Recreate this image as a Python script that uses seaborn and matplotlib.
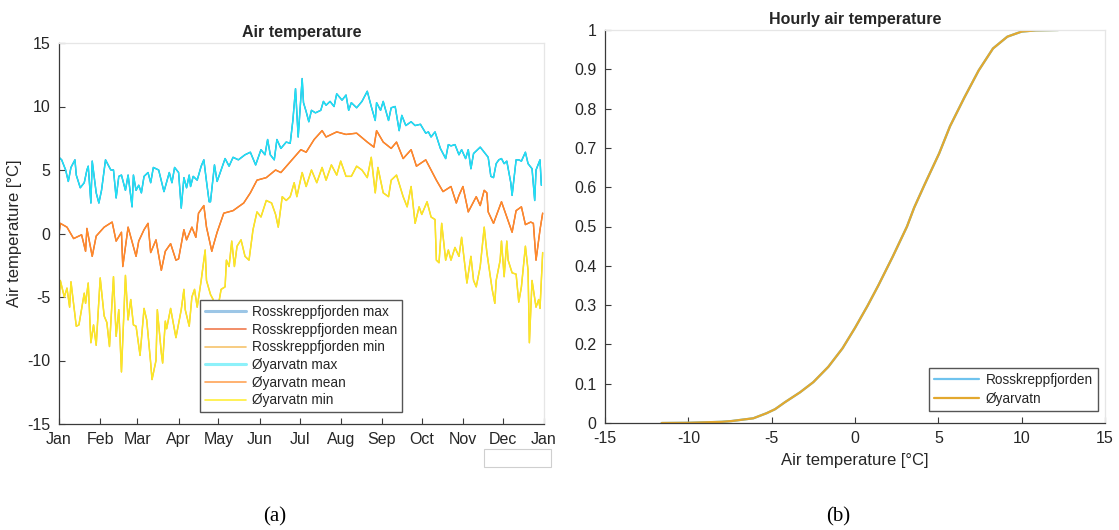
import numpy as np
import pandas as pd
import seaborn as sns
import matplotlib
matplotlib.use("Agg")
import matplotlib.pyplot as plt
import matplotlib.dates as mdates
from matplotlib.patches import Rectangle
from matplotlib.ticker import FuncFormatter

# ---------------- daily air temperature (day of year, deg C) ----------------
max_days = [1, 3, 6, 8, 10, 13, 14, 17, 20, 22, 23, 25, 26, 29, 31, 33, 36, 40, 42, 44,
            46, 48, 51, 53, 56, 57, 59, 61, 63, 65, 68, 70, 72, 76, 80, 84, 86, 88, 91, 93,
            95, 97, 99, 100, 102, 105, 108, 110, 112, 114, 115, 118, 120, 123, 126, 129, 132,
            136, 141, 145, 149, 153, 156, 158, 160, 163, 165, 168, 172, 175, 177, 179, 181,
            184, 185, 187, 189, 191, 194, 198, 200, 202, 205, 208, 210, 214, 217, 219, 221,
            225, 229, 233, 236, 239, 240, 243, 245, 249, 251, 254, 257, 259, 262, 266, 269,
            273, 277, 279, 281, 284, 288, 292, 294, 296, 299, 302, 304, 307, 309, 311, 313,
            318, 321, 324, 326, 328, 330, 332, 334, 336, 338, 341, 342, 345, 347, 349, 352,
            354, 357, 359, 360, 363, 364]
max_vals = [6.0, 5.8, 5.0, 4.1, 5.2, 5.8, 4.6, 3.6, 4.0, 5.0, 5.3, 2.4, 5.7, 3.2, 2.4, 3.4,
            5.8, 5.0, 5.0, 2.8, 4.5, 4.6, 3.4, 4.6, 2.1, 4.6, 3.4, 3.8, 3.2, 4.5, 4.8, 4.0,
            5.2, 5.0, 3.3, 4.8, 4.0, 5.2, 4.8, 2.0, 4.4, 3.6, 4.6, 3.7, 4.5, 4.2, 5.3, 5.8,
            4.1, 2.5, 2.5, 5.4, 4.1, 5.0, 5.9, 5.3, 6.0, 5.8, 6.2, 6.4, 5.4, 6.6, 6.2, 7.4,
            6.2, 5.8, 7.4, 6.7, 7.2, 7.1, 8.9, 11.4, 7.6, 12.2, 10.3, 9.6, 8.8, 9.7, 9.5,
            9.7, 10.4, 10.1, 10.4, 10.0, 11.0, 10.5, 10.9, 9.7, 10.3, 9.9, 10.4, 11.2, 10.0,
            8.9, 10.3, 9.7, 10.4, 8.9, 9.9, 10.0, 8.1, 9.3, 8.5, 8.8, 8.5, 8.6, 7.9, 8.0,
            7.6, 8.0, 6.7, 5.9, 7.0, 6.9, 7.0, 6.2, 6.6, 5.9, 6.6, 5.1, 6.3, 6.8, 6.4, 6.0,
            4.5, 4.4, 5.5, 5.8, 5.9, 5.5, 5.7, 4.0, 3.0, 5.8, 5.8, 5.7, 6.4, 5.5, 5.1, 2.6,
            5.0, 5.8, 3.8]

mean_days = [1, 2, 7, 12, 18, 21, 22, 26, 29, 35, 41, 44, 48, 49, 53, 59, 61, 65, 68, 70,
             74, 78, 81, 85, 89, 91, 95, 97, 101, 104, 106, 110, 112, 116, 117, 120, 125,
             132, 140, 145, 150, 157, 164, 168, 178, 183, 187, 193, 199, 202, 210, 217, 225,
             233, 238, 240, 245, 251, 255, 260, 266, 270, 277, 281, 285, 290, 296, 300, 302,
             305, 309, 315, 318, 321, 323, 324, 328, 334, 338, 342, 345, 349, 352, 356, 358,
             360, 363, 365]
mean_vals = [0.0, 0.8, 0.5, -0.4, -0.1, -1.4, 0.4, -1.8, -0.2, 0.5, 0.9, -0.6, 0.1, -2.6,
             0.5, -1.8, -0.6, 0.3, 0.8, -1.5, -0.5, -2.9, -1.4, -0.8, -2.1, -2.0, 0.3, -0.5,
             0.5, -0.3, 1.6, 2.2, 0.5, -1.4, -1.0, 0.1, 1.6, 1.8, 2.4, 3.2, 4.2, 4.4, 5.0,
             4.8, 6.0, 6.6, 6.4, 7.4, 8.1, 7.6, 8.0, 7.8, 7.9, 7.2, 6.8, 8.1, 7.2, 6.7, 7.2,
             5.9, 6.6, 5.3, 5.8, 5.0, 4.2, 3.3, 3.7, 2.4, 3.0, 3.7, 1.7, 2.9, 2.2, 3.4, 3.2,
             1.7, 0.8, 2.5, 1.3, 0.1, 1.8, 2.1, 0.7, 0.9, 0.8, -2.1, 0.3, 1.6]

min_days = [1, 2, 5, 7, 9, 10, 14, 16, 20, 21, 23, 25, 27, 29, 32, 35, 37, 39, 42, 44, 46,
            48, 51, 53, 55, 57, 59, 62, 65, 67, 70, 71, 74, 75, 78, 79, 81, 82, 85, 89, 93,
            95, 96, 99, 101, 103, 105, 108, 111, 112, 115, 117, 120, 121, 123, 126, 127, 129,
            131, 133, 135, 138, 141, 144, 147, 150, 153, 157, 161, 164, 166, 169, 172, 175,
            178, 180, 184, 187, 191, 195, 199, 202, 206, 210, 213, 217, 221, 225, 229, 233,
            236, 239, 241, 245, 249, 251, 255, 260, 263, 266, 269, 272, 274, 278, 281, 284,
            285, 287, 289, 292, 294, 296, 299, 302, 304, 308, 311, 313, 315, 318, 321, 323,
            327, 329, 330, 333, 334, 336, 338, 339, 342, 345, 347, 349, 352, 354, 355, 357,
            360, 362, 363, 365]
min_vals = [-5.6, -3.7, -5.0, -4.3, -5.8, -3.8, -7.3, -7.2, -4.7, -5.5, -3.9, -8.6, -7.2,
            -8.8, -3.5, -6.5, -7.0, -8.9, -3.4, -8.1, -6.0, -10.9, -3.3, -6.8, -5.2, -7.2,
            -7.3, -9.6, -5.9, -6.8, -10.2, -11.5, -10.0, -6.0, -9.4, -10.2, -6.9, -7.5, -5.9,
            -8.2, -6.0, -4.4, -6.0, -7.3, -5.0, -4.4, -5.8, -3.7, -1.3, -3.7, -4.8, -5.2,
            -6.3, -5.6, -4.4, -4.2, -2.1, -2.6, -0.6, -2.6, -1.0, -0.5, -1.8, -2.1, 0.3, 1.7,
            1.3, 2.6, 2.4, 1.5, 0.5, 2.9, 2.6, 2.9, 4.0, 2.9, 4.8, 3.7, 5.0, 4.0, 5.2, 4.2,
            5.4, 4.6, 5.7, 4.5, 4.5, 5.3, 5.0, 4.4, 6.0, 3.2, 5.2, 3.2, 2.9, 4.2, 4.6, 2.9,
            2.1, 3.7, 0.8, 2.1, 1.5, 2.5, 1.3, 1.1, -2.1, -2.3, 0.8, -2.1, -1.3, -2.1, -1.1,
            -1.8, -0.3, -3.9, -1.8, -3.7, -4.2, -2.6, 0.5, -1.5, -4.4, -5.5, -3.7, -2.1,
            -0.6, -3.4, -0.6, -2.1, -3.1, -3.2, -5.4, -4.2, -1.0, -2.9, -8.6, -3.7, -5.8,
            -5.2, -5.9, -1.5]

# ---------------- cumulative distribution of hourly temperature ----------------
cdf_temp = [-11.6, -10.0, -8.0, -7.4, -6.1, -5.3, -4.8, -4.2, -3.3, -2.5, -1.6, -0.75,
            0.0, 0.75, 1.4, 2.26, 3.12, 3.55, 4.19, 5.05, 5.7, 6.56, 7.42, 8.28, 9.14,
            10.0, 10.85, 12.2]
cdf_prob = [0.0, 0.0005, 0.003, 0.005, 0.012, 0.025, 0.035, 0.053, 0.078, 0.104, 0.143,
            0.19, 0.242, 0.298, 0.35, 0.423, 0.5, 0.548, 0.608, 0.686, 0.755, 0.828, 0.897,
            0.953, 0.983, 0.996, 0.999, 1.0]

stations = ["Rosskreppfjorden", "Øyarvatn"]
stats = ["max", "mean", "min"]

sns.set_theme(style="white")
plt.rcParams["font.family"] = ["Liberation Sans", "DejaVu Sans"]
TXT = "#262626"
plt.rcParams.update({"text.color": TXT, "axes.labelcolor": TXT,
                     "xtick.color": TXT, "ytick.color": TXT,
                     "axes.unicode_minus": False})

fig = plt.figure(figsize=(11.19, 5.30), dpi=100)
ax1 = fig.add_axes([59 / 1119, 1 - 424 / 530, 485 / 1119, 381 / 530])
ax2 = fig.add_axes([605 / 1119, 1 - 423 / 530, 500 / 1119, 393 / 530])

start = pd.Timestamp("2022-01-01")
to_dates = lambda d: start + pd.to_timedelta(np.asarray(d) - 1, unit="D")
series = {"max": (max_days, max_vals), "mean": (mean_days, mean_vals),
          "min": (min_days, min_vals)}

line_cols = {"Rosskreppfjorden": {"max": "#2A7FC4", "mean": "#E0622A", "min": "#F0B838"},
             "Øyarvatn": {"max": "#1EE3F5", "mean": "#FF8A2A", "min": "#FBE824"}}
legend_cols = {"Rosskreppfjorden": {"max": "#9CC6E6", "mean": "#F07A4E", "min": "#F6C46C"},
               "Øyarvatn": {"max": "#8DF1FA", "mean": "#FFA458", "min": "#FFEF3A"}}

for st in stations:
    for s in stats:
        d, v = series[s]
        sns.lineplot(x=to_dates(d), y=v, ax=ax1, color=line_cols[st][s], lw=1.0,
                     estimator=None, errorbar=None, label=f"{st} {s}")

ax1.set_xlim(start, pd.Timestamp("2023-01-01"))
ax1.set_ylim(-15, 15)
ax1.set_yticks(range(-15, 16, 5))
ax1.xaxis.set_major_locator(mdates.MonthLocator())
ax1.xaxis.set_major_formatter(mdates.DateFormatter("%b"))
ax1.set_ylabel("Air temperature [°C]", fontsize=12, labelpad=4)
ax1.set_xlabel("")
ax1.set_title("Air temperature", fontsize=11.5, fontweight="bold", pad=4)

h, l = ax1.get_legend_handles_labels()
leg1 = ax1.legend(h, l, loc="lower left", bbox_to_anchor=(0.291, 0.031), fontsize=9.8,
                  frameon=True, fancybox=False, edgecolor="#555555", framealpha=1,
                  handlelength=3.0, handletextpad=0.45, labelspacing=0.27,
                  borderpad=0.35, borderaxespad=0)
for hdl, lab in zip(leg1.get_lines(), l):
    st, s = lab.rsplit(" ", 1)
    hdl.set_color(legend_cols[st][s])
    hdl.set_linewidth(2.2 if s == "max" else 1.2)
leg1.get_frame().set_linewidth(1.0)

cdf_cols = {"Rosskreppfjorden": "#4DBEEE", "Øyarvatn": "#E3A82E"}
for st in stations:
    sns.lineplot(x=cdf_temp, y=cdf_prob, ax=ax2, color=cdf_cols[st], lw=1.6,
                 estimator=None, errorbar=None, sort=False, label=st)
ax2.set_xlim(-15, 15)
ax2.set_ylim(0, 1)
ax2.set_xticks(range(-15, 16, 5))
ax2.set_yticks(np.round(np.arange(0, 1.01, 0.1), 1))
ax2.yaxis.set_major_formatter(FuncFormatter(lambda v, p: f"{v:g}"))
ax2.set_xlabel("Air temperature [°C]", fontsize=12, labelpad=5)
ax2.set_title("Hourly air temperature", fontsize=11.5, fontweight="bold", pad=4)
leg2 = ax2.legend(loc="lower right", bbox_to_anchor=(0.986, 0.03), fontsize=9.8,
                  frameon=True, fancybox=False, edgecolor="#555555", framealpha=1,
                  handlelength=3.3, handletextpad=0.45, labelspacing=0.35,
                  borderpad=0.4, borderaxespad=0)
leg2.get_lines()[0].set_color("#6FC3EE")
leg2.get_frame().set_linewidth(1.0)

for ax in (ax1, ax2):
    for side in ("left", "bottom"):
        ax.spines[side].set_color("#3a3a3a")
        ax.spines[side].set_linewidth(0.9)
    for side in ("top", "right"):
        ax.spines[side].set_color("#e6e6e6")
        ax.spines[side].set_linewidth(0.9)
    ax.tick_params(direction="in", length=4, width=0.8, labelsize=11.5,
                   top=False, right=False, left=True, bottom=True, color="#3a3a3a", pad=6)

# small empty box under the date axis
fig.patches.append(Rectangle((484 / 1119, 1 - 467 / 530), 67 / 1119, 18 / 530,
                             transform=fig.transFigure, facecolor="white",
                             edgecolor="#cfcfcf", lw=0.8))

fig.text(275 / 1119, 1 - 517 / 530, "(a)", ha="center", va="center", fontsize=15,
         family=["Liberation Serif", "DejaVu Serif"], color="black")
fig.text(838 / 1119, 1 - 517 / 530, "(b)", ha="center", va="center", fontsize=15,
         family=["Liberation Serif", "DejaVu Serif"], color="black")

fig.savefig("out.png", dpi=100, facecolor="white")
